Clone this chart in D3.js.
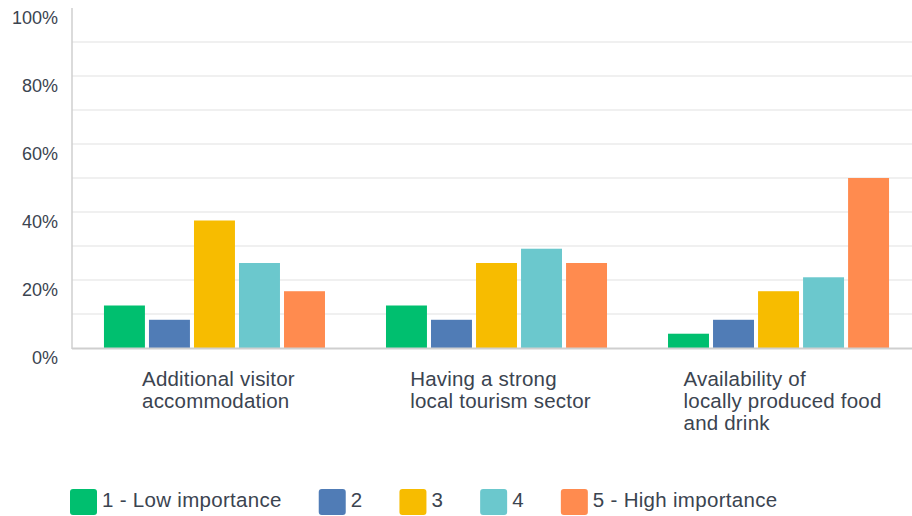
<!DOCTYPE html>
<html>
<head>
<meta charset="utf-8">
<script src="https://cdn.jsdelivr.net/npm/d3@7"></script>
<style>
  body { margin: 0; background: #fff; }
  svg { display: block; font-family: "Liberation Sans", Arial, sans-serif; }
</style>
</head>
<body>
<div id="chart"></div>
<script>
var categories = [
  ["Additional visitor", "accommodation"],
  ["Having a strong", "local tourism sector"],
  ["Availability of", "locally produced food", "and drink"]
];
var seriesNames = ["1 - Low importance", "2", "3", "4", "5 - High importance"];
var seriesColors = ["#00bf6f", "#507cb6", "#f7bc00", "#6bc8cd", "#ff8b4f"];
// percentages per category, one value per series
var lowImportance = [12.5, 12.5, 4.2];
var two = [8.3, 8.3, 8.3];
var three = [37.5, 25.0, 16.7];
var four = [25.0, 29.2, 20.8];
var highImportance = [16.7, 25.0, 50.0];
var yTicks = [0, 20, 40, 60, 80, 100];

var values = [lowImportance, two, three, four, highImportance];

var width = 912, height = 516;
var svg = d3.select("#chart").append("svg")
  .attr("width", width)
  .attr("height", height);

var y = d3.scaleLinear().domain([0, 100]).range([348, 8]);

var x0 = d3.scaleBand()
  .domain(d3.range(categories.length))
  .range([73.5, 919.5])
  .paddingInner(0.2163)
  .paddingOuter(0.108);

var x1 = d3.scaleBand()
  .domain(d3.range(seriesNames.length))
  .range([0, x0.bandwidth()])
  .paddingInner(0.09)
  .paddingOuter(0);

// gridlines every 10%
svg.append("g").selectAll("line")
  .data(d3.range(10, 100, 10))
  .enter().append("line")
  .attr("x1", 72).attr("x2", width)
  .attr("y1", function (d) { return y(d); })
  .attr("y2", function (d) { return y(d); })
  .attr("stroke", "#ebebeb")
  .attr("stroke-width", 1.5);

// y tick labels
svg.append("g").selectAll("text")
  .data(yTicks)
  .enter().append("text")
  .attr("x", 58)
  .attr("y", function (d) { return y(d) + 15.5; })
  .attr("text-anchor", "end")
  .attr("font-size", "18px")
  .attr("fill", "#3b4450")
  .text(function (d) { return d + "%"; });

// bars
var groups = svg.append("g").selectAll("g")
  .data(categories)
  .enter().append("g")
  .attr("transform", function (d, i) { return "translate(" + x0(i) + ",0)"; });

groups.selectAll("rect")
  .data(function (d, i) {
    return values.map(function (s, j) { return { s: j, v: s[i] }; });
  })
  .enter().append("rect")
  .attr("x", function (d) { return x1(d.s); })
  .attr("width", x1.bandwidth())
  .attr("y", function (d) { return y(d.v); })
  .attr("height", function (d) { return y(0) - y(d.v); })
  .attr("fill", function (d) { return seriesColors[d.s]; });

// axes lines
svg.append("line")
  .attr("x1", 72).attr("x2", 72)
  .attr("y1", y(100)).attr("y2", y(0) + 1)
  .attr("stroke", "#cfcfcf").attr("stroke-width", 1.5);
svg.append("line")
  .attr("x1", 72).attr("x2", width)
  .attr("y1", y(0) + 0.5).attr("y2", y(0) + 0.5)
  .attr("stroke", "#cfcfcf").attr("stroke-width", 2);

// category labels (left aligned block, centred under group)
categories.forEach(function (lines, i) {
  var g = svg.append("g");
  var t = g.selectAll("text")
    .data(lines)
    .enter().append("text")
    .attr("y", function (d, k) { return 386 + k * 22; })
    .attr("font-size", "20.5px")
    .attr("letter-spacing", "0.2px")
    .attr("fill", "#3b4450")
    .text(function (d) { return d; });
  var maxW = d3.max(t.nodes(), function (n) { return n.getComputedTextLength(); });
  var cx = x0(i) + x0.bandwidth() / 2 + 4;
  t.attr("x", cx - maxW / 2);
});

// legend
var legend = svg.append("g");
var lx = 70;
seriesNames.forEach(function (name, i) {
  legend.append("rect")
    .attr("x", lx).attr("y", 489)
    .attr("width", 27).attr("height", 26)
    .attr("rx", 3)
    .attr("fill", seriesColors[i]);
  var t = legend.append("text")
    .attr("x", lx + 32).attr("y", 506.5)
    .attr("font-size", "20.5px")
    .attr("letter-spacing", "0.3px")
    .attr("fill", "#3b4450")
    .text(name);
  lx = lx + 32 + t.node().getComputedTextLength() + 37;
});
</script>
</body>
</html>
